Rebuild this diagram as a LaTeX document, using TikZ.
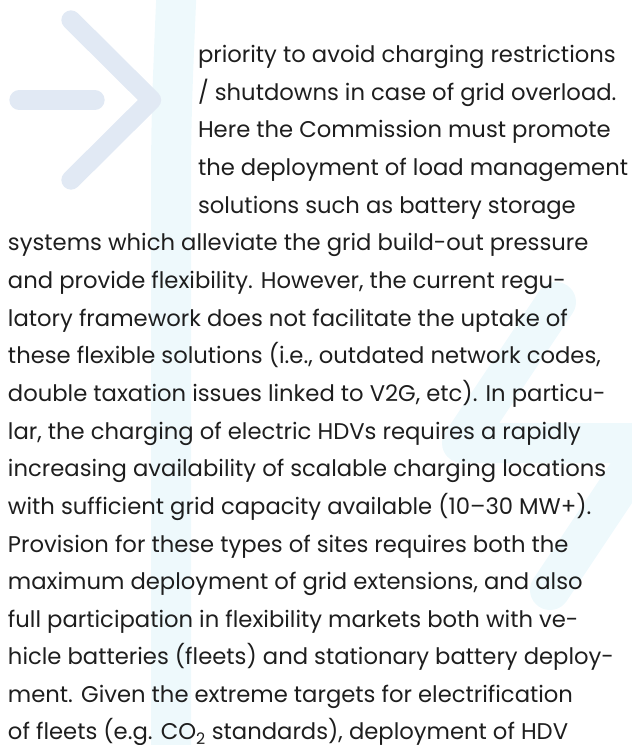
\documentclass[tikz,border=0pt]{standalone}
\usepackage{fontspec}
\setmainfont{Poppins}
\usepackage{tikz}
\usetikzlibrary{arrows}
\definecolor{arrowgrey}{RGB}{225,233,244}
\definecolor{boltcyan}{RGB}{238,249,252}
\definecolor{textblack}{RGB}{30,30,30}

\begin{document}
\begin{tikzpicture}%
        [x={(1pt, 0pt)},
        y={(0pt, -1pt)},
        chevron/.style={color=arrowgrey, line width=19.3pt, line cap=round, line join=round},
        bolt/.style={color=boltcyan, line width=40pt, line cap=round, line join=round},
        body/.style={anchor=base west, inner sep=0pt, outer sep=0pt, text=textblack,
                     font=\fontsize{22.7}{28}\selectfont}]

    %% Page frame
    \useasboundingbox (0,0) rectangle (632,745);
    \clip (0,0) rectangle (632,745);
    %%
    %% Background shapes
    %%
    \draw[bolt] (177,-20) .. controls (171,120) .. (171,230) -- (171,770);
    \draw[bolt] (556,302) -- (462,443) -- (648,443) -- (550,590);
    \draw[chevron] (71,20) -- (151.5,100) -- (71,180);
    \draw[chevron] (19,100) -- (95,100);
    %%
    %% Text lines
    %%
    \node[body] (l1)  at (198, 62.5) {priority to avoid charging restrictions};
    \node[body] (l2)  at (198,100.2) {/ shutdowns in case of grid overload.};
    \node[body] (l3)  at (198,137.8) {Here the Commission must promote};
    \node[body] (l4)  at (198,175.5) {the deployment of load management};
    \node[body] (l5)  at (198,213.1) {solutions such as battery storage};
    \node[body] (l6)  at (8,250.8)   {systems which alleviate the grid build-out pressure};
    \node[body] (l7)  at (8,288.4)   {and provide flexibility. However, the current regu-};
    \node[body] (l8)  at (8,326.1)   {latory framework does not facilitate the uptake of};
    \node[body] (l9)  at (8,363.7)   {these flexible solutions (i.e., outdated network codes,};
    \node[body] (l10) at (8,401.4)   {double taxation issues linked to V2G, etc). In particu-};
    \node[body] (l11) at (8,439.0)   {lar, the charging of electric HDVs requires a rapidly};
    \node[body] (l12) at (8,476.7)   {increasing availability of scalable charging locations};
    \node[body] (l13) at (8,514.3)   {with sufficient grid capacity available (10–30 MW+).};
    \node[body] (l14) at (8,552.0)   {Provision for these types of sites requires both the};
    \node[body] (l15) at (8,589.6)   {maximum deployment of grid extensions, and also};
    \node[body] (l16) at (8,627.3)   {full participation in flexibility markets both with ve-};
    \node[body] (l17) at (8,664.9)   {hicle batteries (fleets) and stationary battery deploy-};
    \node[body] (l18) at (8,702.6)   {ment. Given the extreme targets for electrification};
    \node[body] (l19) at (8,739.5)   {of fleets (e.g. CO\textsubscript{2} standards), deployment of HDV};
    %%
\end{tikzpicture}
\end{document}
